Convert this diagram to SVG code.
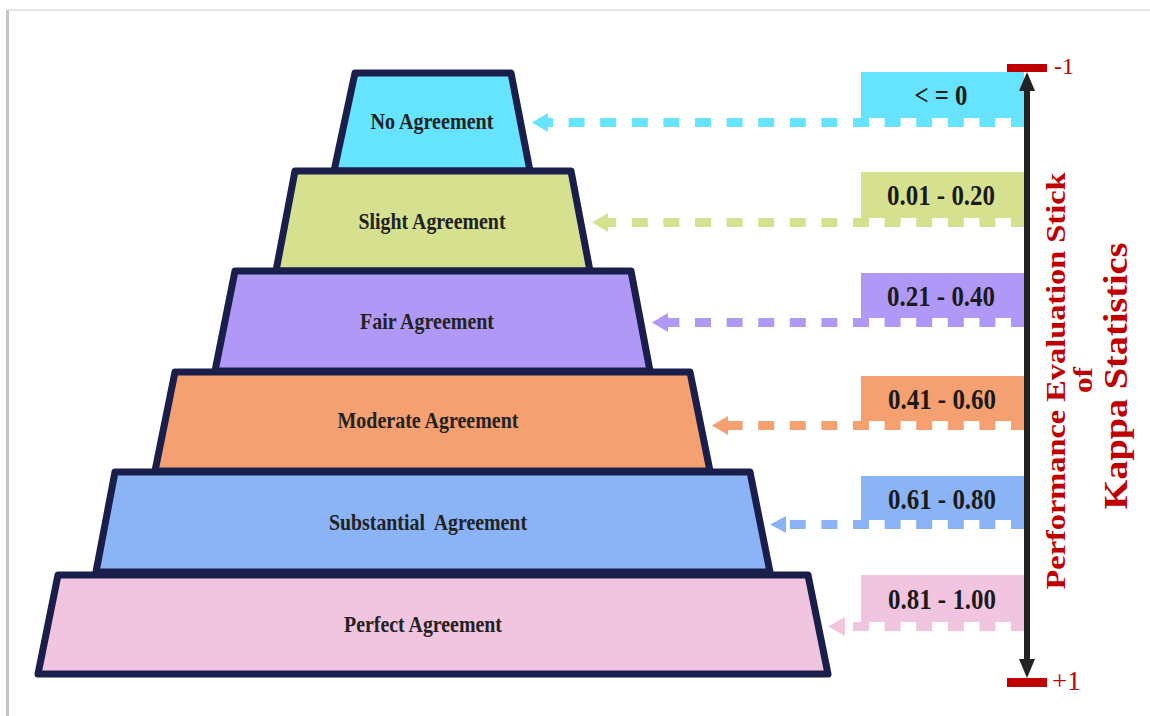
<svg xmlns="http://www.w3.org/2000/svg" width="1150" height="716" viewBox="0 0 1150 716">
<style>
.lvl{stroke:#1a1e4a;stroke-width:7;stroke-linejoin:round}
.lbl{font-family:"Liberation Serif","Times New Roman",serif;font-weight:bold;font-size:24px;fill:#222;text-anchor:middle}
.val{font-family:"Liberation Serif","Times New Roman",serif;font-weight:bold;font-size:30px;fill:#1a1a1a;text-anchor:middle}
.red{font-family:"Liberation Serif","Times New Roman",serif;font-weight:bold;fill:#c00000;text-anchor:middle}
.end{font-family:"Liberation Serif","Times New Roman",serif;fill:#c00000}
.dash{fill:none;stroke-width:9;stroke-dasharray:16 15.6}
.c1{fill:#66e3fe}.c2{fill:#d6e190}.c3{fill:#b098f6}.c4{fill:#f4a071}.c5{fill:#8bb4f6}.c6{fill:#f1c5e0}
.s1{stroke:#66e3fe}.s2{stroke:#d6e190}.s3{stroke:#b098f6}.s4{stroke:#f4a071}.s5{stroke:#8bb4f6}.s6{stroke:#f1c5e0}
</style>
<rect x="0" y="0" width="1150" height="716" fill="#ffffff"/>
<line x1="8" y1="10" x2="1150" y2="10" stroke="#e6e6e6" stroke-width="2"/>
<line x1="7.5" y1="10" x2="7.5" y2="716" stroke="#c4c4c4" stroke-width="3"/>

<g id="level-no">
<polygon class="lvl c1" points="355,73 511,73 530,171 334,171"/>
<text class="lbl" x="432" y="129" textLength="123" lengthAdjust="spacingAndGlyphs">No Agreement</text>
</g>
<g id="level-slight">
<polygon class="lvl c2" points="295,171 571,171 590,271 276,271"/>
<text class="lbl" x="432" y="229" textLength="147" lengthAdjust="spacingAndGlyphs">Slight Agreement</text>
</g>
<g id="level-fair">
<polygon class="lvl c3" points="235,271 631,271 650,371 215,371"/>
<text class="lbl" x="427" y="329" textLength="134" lengthAdjust="spacingAndGlyphs">Fair Agreement</text>
</g>
<g id="level-moderate">
<polygon class="lvl c4" points="175,372 690,372 710,471 155,471"/>
<text class="lbl" x="428" y="428" textLength="181" lengthAdjust="spacingAndGlyphs">Moderate Agreement</text>
</g>
<g id="level-substantial">
<polygon class="lvl c5" points="115,472 750,472 770,572 96,572"/>
<text class="lbl" x="428" y="530" textLength="198" lengthAdjust="spacingAndGlyphs" xml:space="preserve">Substantial  Agreement</text>
</g>
<g id="level-perfect">
<polygon class="lvl c6" points="58,575 808,575 828,674 38,674"/>
<text class="lbl" x="423" y="632" textLength="158" lengthAdjust="spacingAndGlyphs">Perfect Agreement</text>
</g>

<g id="range-1">
<rect class="c1" x="861" y="72" width="163" height="46"/>
<text class="val" x="941" y="105" textLength="53" lengthAdjust="spacingAndGlyphs">&lt; = 0</text>
</g>
<g id="range-2">
<rect class="c2" x="861" y="172" width="163" height="46"/>
<text class="val" x="941" y="205" textLength="108" lengthAdjust="spacingAndGlyphs">0.01 - 0.20</text>
</g>
<g id="range-3">
<rect class="c3" x="861" y="273" width="163" height="45"/>
<text class="val" x="941" y="306" textLength="108" lengthAdjust="spacingAndGlyphs">0.21 - 0.40</text>
</g>
<g id="range-4">
<rect class="c4" x="861" y="376" width="163" height="45"/>
<text class="val" x="942" y="409" textLength="108" lengthAdjust="spacingAndGlyphs">0.41 - 0.60</text>
</g>
<g id="range-5">
<rect class="c5" x="861" y="476" width="163" height="44"/>
<text class="val" x="942" y="509" textLength="108" lengthAdjust="spacingAndGlyphs">0.61 - 0.80</text>
</g>
<g id="range-6">
<rect class="c6" x="861" y="575" width="163" height="47"/>
<text class="val" x="942" y="609" textLength="108" lengthAdjust="spacingAndGlyphs">0.81 - 1.00</text>
</g>

<g id="connectors">
<path class="dash s1" d="M1027,122.5 H540"/>
<polygon class="c1" points="532,122.5 548,113 548,132"/>
<path class="dash s2" d="M1027,222.5 H600"/>
<polygon class="c2" points="592,222.5 608,213 608,232"/>
<path class="dash s3" d="M1027,322.5 H660"/>
<polygon class="c3" points="652,322.5 668,313 668,332"/>
<path class="dash s4" d="M1027,425.5 H720"/>
<polygon class="c4" points="712,425.5 728,416 728,435"/>
<path class="dash s5" d="M1027,524.5 H778"/>
<polygon class="c5" points="770,524.5 786,516 786,533"/>
<path class="dash s6" d="M1027,626.5 H836"/>
<polygon class="c6" points="828,626.5 845,617 845,636"/>
</g>

<g id="scale-stick">
<line x1="1027" y1="86" x2="1027" y2="664" stroke="#222" stroke-width="6"/>
<polygon points="1027,72 1035,91 1019,91" fill="#222"/>
<polygon points="1027,678 1035,659 1019,659" fill="#222"/>
<rect x="1007" y="64" width="40" height="8" fill="#c00000"/>
<rect x="1007" y="678" width="40" height="9" fill="#c00000"/>
<text class="end" x="1054" y="74" font-size="24">-1</text>
<text class="end" x="1052" y="690" font-size="27">+1</text>
</g>

<g id="axis-title">
<text class="red" font-size="27" transform="translate(1065,381) rotate(-90)" textLength="417" lengthAdjust="spacingAndGlyphs">Performance Evaluation Stick</text>
<text class="red" font-size="27" transform="translate(1092,380) rotate(-90)" textLength="26" lengthAdjust="spacingAndGlyphs">of</text>
<text class="red" font-size="33" transform="translate(1127,376) rotate(-90)" textLength="267" lengthAdjust="spacingAndGlyphs">Kappa Statistics</text>
</g>
</svg>
